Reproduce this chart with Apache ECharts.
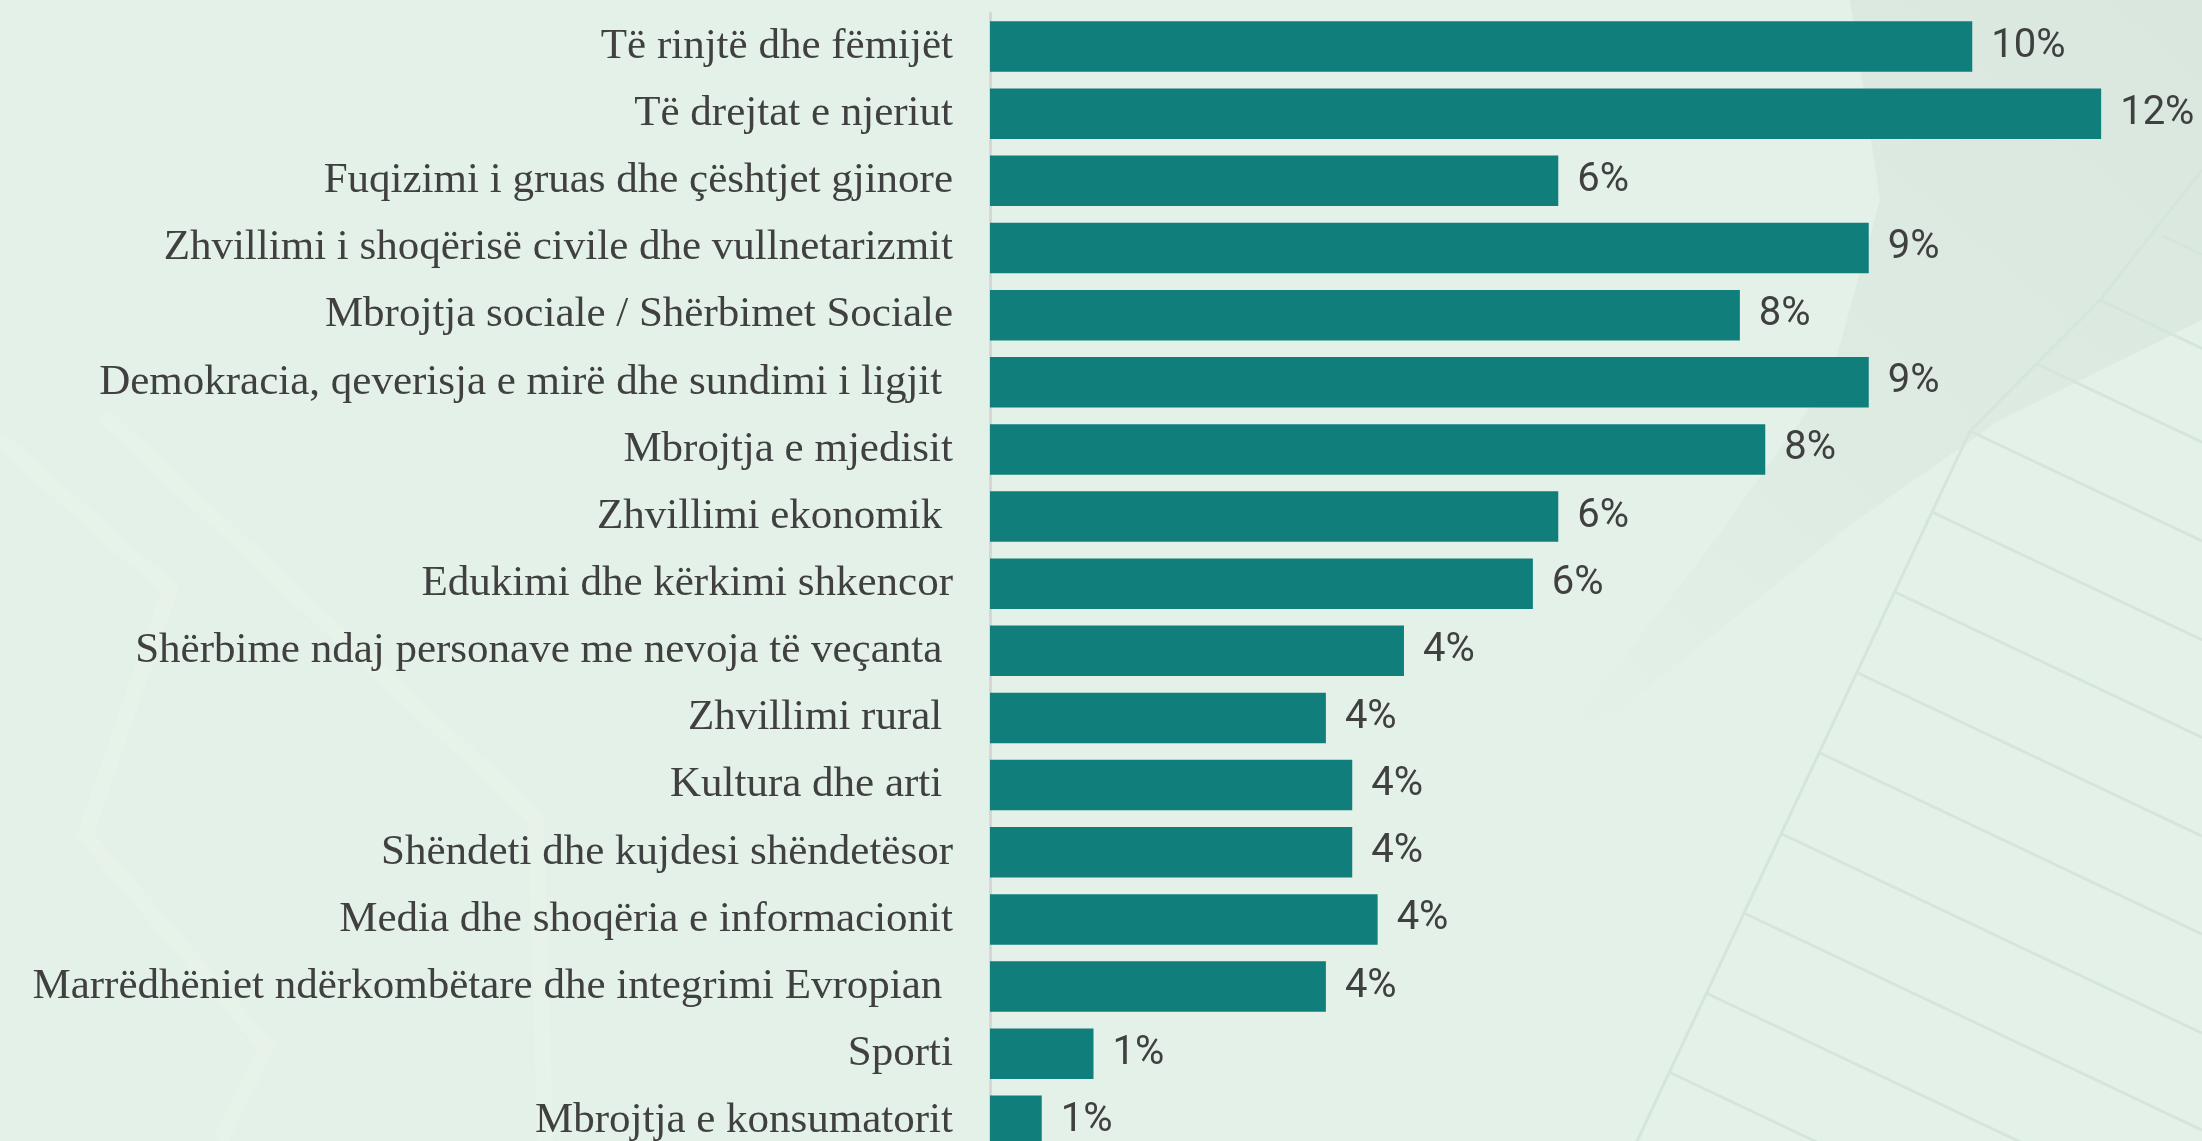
<!DOCTYPE html>
<html>
<head>
<meta charset="utf-8">
<script src="https://cdn.jsdelivr.net/npm/echarts@6/dist/echarts.min.js"></script>
<style>
  html, body { margin: 0; padding: 0; background: #e4f1e9; width: 2202px; height: 1141px; overflow: hidden; }
  #chart { width: 2202px; height: 1160px; }
</style>
</head>
<body>
<div id="chart"></div>
<script>
// Categories, top to bottom (trailing spaces as in the source labels)
const categories = [
  "Të rinjtë dhe fëmijët",
  "Të drejtat e njeriut",
  "Fuqizimi i gruas dhe çështjet gjinore",
  "Zhvillimi i shoqërisë civile dhe vullnetarizmit",
  "Mbrojtja sociale / Shërbimet Sociale",
  "Demokracia, qeverisja e mirë dhe sundimi i ligjit ",
  "Mbrojtja e mjedisit",
  "Zhvillimi ekonomik ",
  "Edukimi dhe kërkimi shkencor",
  "Shërbime ndaj personave me nevoja të veçanta ",
  "Zhvillimi rural ",
  "Kultura dhe arti ",
  "Shëndeti dhe kujdesi shëndetësor",
  "Media dhe shoqëria e informacionit",
  "Marrëdhëniet ndërkombëtare dhe integrimi Evropian ",
  "Sporti",
  "Mbrojtja e konsumatorit"
];

// Share of respondents (%)
const shares = [10.44, 11.81, 6.04, 9.34, 7.97, 9.34, 8.24, 6.04, 5.77, 4.40, 3.57, 3.85, 3.85, 4.12, 3.57, 1.10, 0.55];

// Value-axis extent
const axisMin = 0;
const axisMax = 12.85;

// ---- decorative background (not data) ----
const hatchColor = '#d6e5db';
const decor = [];
const spine = [[1970,431],[1932,512],[1895,592],[1858,673],[1820,753],[1782,834],[1744,913],[1706,993],[1669,1072],[1632,1152]];
spine.forEach(function (p) {
  decor.push({ type: 'line', silent: true, z: -5,
    shape: { x1: p[0], y1: p[1], x2: 2202, y2: p[1] + 0.474 * (2202 - p[0]) },
    style: { stroke: hatchColor, lineWidth: 3 } });
});
[[2037,364],[2100,300],[2163,236]].forEach(function (p) {
  decor.push({ type: 'line', silent: true, z: -5,
    shape: { x1: p[0], y1: p[1], x2: 2202, y2: p[1] + 0.474 * (2202 - p[0]) },
    style: { stroke: hatchColor, lineWidth: 3 } });
});
decor.push({ type: 'polyline', silent: true, z: -5,
  shape: { points: [[2202,170],[2100,300],[1970,431],[1632,1152]] },
  style: { stroke: hatchColor, lineWidth: 3, fill: null } });
// soft grey haze top-right
decor.push({ type: 'polygon', silent: true, z: -6,
  shape: { points: [[1850,0],[2202,0],[2202,320],[2000,420],[1850,525],[1620,710],[1560,740],[1700,560],[1830,380],[1880,200]] },
  style: { fill: new echarts.graphic.LinearGradient(1, 0, 0, 1, [
      { offset: 0, color: 'rgba(196,210,201,0.32)' },
      { offset: 0.6, color: 'rgba(196,210,201,0.18)' },
      { offset: 1, color: 'rgba(196,210,201,0.0)' }]) } });
// faint light chevrons on the left
decor.push({ type: 'polyline', silent: true, z: -5,
  shape: { points: [[103,415],[536,818],[545,1141]] },
  style: { stroke: '#e9f3e7', lineWidth: 16, fill: null, opacity: 0.6 } });
decor.push({ type: 'polyline', silent: true, z: -5,
  shape: { points: [[0,440],[170,590],[85,835],[267,1047],[220,1141]] },
  style: { stroke: '#e9f3e7', lineWidth: 16, fill: null, opacity: 0.6 } });

const chart = echarts.init(document.getElementById('chart'), null, { renderer: 'canvas' });
chart.setOption({
  backgroundColor: '#e4f1e9',
  animation: false,
  graphic: { elements: decor },
  grid: { left: 990, top: 13, width: 1209, height: 1141.4, containLabel: false },
  xAxis: {
    type: 'value', min: axisMin, max: axisMax, show: false,
    splitLine: { show: false }
  },
  yAxis: {
    type: 'category',
    inverse: true,
    data: categories,
    axisTick: { show: false },
    axisLine: { show: true, lineStyle: { color: '#d4d7d5', width: 3 } },
    axisLabel: {
      margin: 37,
      fontFamily: '"Liberation Serif", "Times New Roman", serif',
      fontSize: 43,
      color: '#404040'
    }
  },
  series: [{
    type: 'bar',
    data: shares,
    barWidth: 50.5,
    itemStyle: { color: '#107e7b' },
    label: {
      show: true,
      position: 'right',
      distance: 19,
      fontFamily: 'Roboto, "Noto Sans", sans-serif',
      fontSize: 40,
      color: '#404040',
      formatter: function (p) { return Math.round(p.value) + '%'; }
    }
  }]
});
</script>
</body>
</html>
